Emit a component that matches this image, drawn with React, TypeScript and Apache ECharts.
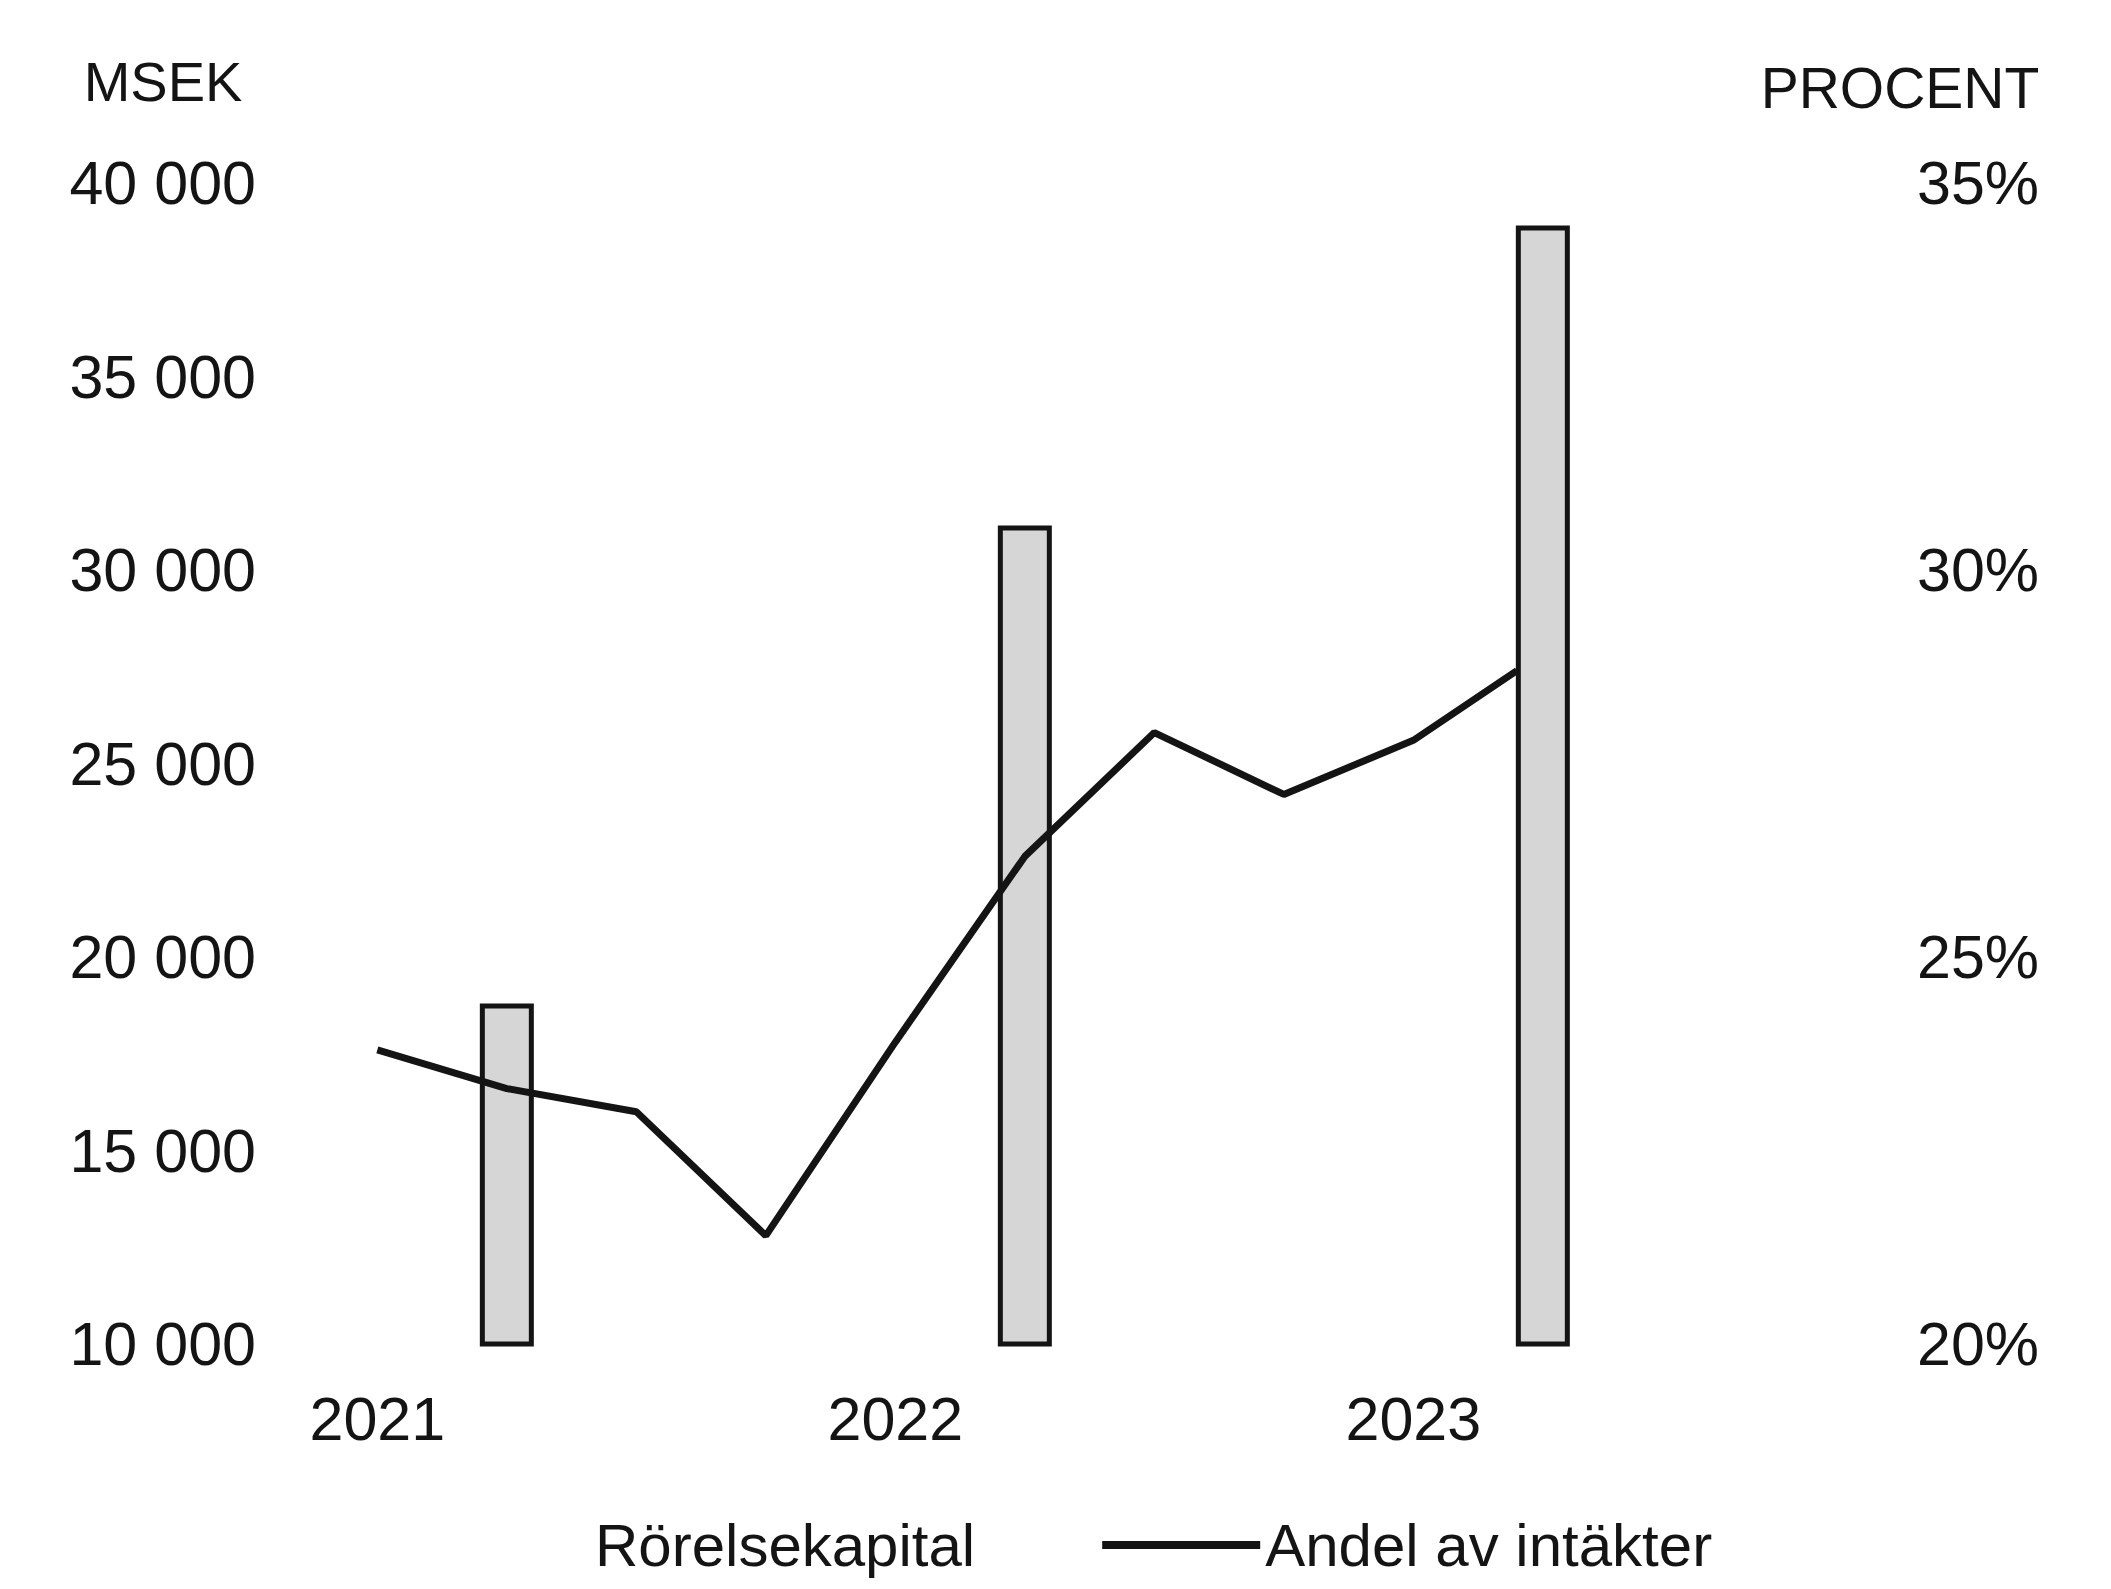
import React, { useEffect, useRef } from "react";
import * as echarts from "echarts";

// ---- data ----
const yearLabels = ["2021", "2022", "2023"];
const yearStartMonths = [0, 12, 24]; // months since Jan 2021
const barMonths = [3, 15, 27];
const workingCapital = [18800, 31150, 38900]; // MSEK (Rörelsekapital)
const lineMonths = [0, 3, 6, 9, 12, 15, 18, 21, 24, 26.4];
const shareOfRevenue = [23.8, 23.3, 23.0, 21.4, 23.9, 26.3, 27.9, 27.1, 27.8, 28.7]; // %
const leftAxisTitle = "MSEK";
const rightAxisTitle = "PROCENT";
const barName = "Rörelsekapital";
const lineName = "Andel av intäkter";

const FONT = "'Liberation Sans', Arial, sans-serif";
const TXT = "#141414";

export default function App() {
  const ref = useRef<HTMLDivElement>(null);
  useEffect(() => {
    if (!ref.current) return;
    const chart = echarts.init(ref.current, null, { renderer: "svg" });
    const fmtThousands = (v: number) =>
      String(v).replace(/\B(?=(\d{3})+(?!\d))/g, " ");
    chart.setOption({
      animation: false,
      backgroundColor: "#ffffff",
      textStyle: { fontFamily: FONT, color: TXT },
      grid: { left: 291, right: 266, top: 183, bottom: 245, containLabel: false },
      graphic: [
        {
          type: "text",
          x: 163,
          y: 81,
          style: {
            text: leftAxisTitle,
            font: `56px ${FONT}`,
            fill: TXT,
            align: "center",
            verticalAlign: "middle",
          },
        },
        {
          type: "text",
          x: 1900,
          y: 88,
          style: {
            text: rightAxisTitle,
            font: `57px ${FONT}`,
            fill: TXT,
            align: "center",
            verticalAlign: "middle",
          },
        },
      ],
      legend: {
        left: 432,
        top: 1515,
        padding: 0,
        itemWidth: 158,
        itemHeight: 8,
        itemGap: 127,
        textStyle: { fontSize: 60, lineHeight: 58, color: TXT, fontFamily: FONT },
        data: [
          { name: barName, icon: "rect", itemStyle: { color: "rgba(0,0,0,0)", borderWidth: 0 } },
          { name: lineName, icon: "rect", itemStyle: { color: TXT, borderWidth: 0 } },
        ],
      },
      xAxis: {
        type: "value",
        min: -2,
        max: 34,
        axisLine: { show: false },
        axisTick: { show: false },
        splitLine: { show: false },
        axisLabel: {
          customValues: yearStartMonths,
          margin: 44,
          fontSize: 61,
          color: TXT,
          fontFamily: FONT,
          formatter: (v: number) => {
            const i = yearStartMonths.indexOf(v);
            return i >= 0 ? yearLabels[i] : "";
          },
        },
      },
      yAxis: [
        {
          type: "value",
          min: 10000,
          max: 40000,
          interval: 5000,
          axisLine: { show: false },
          axisTick: { show: false },
          splitLine: { show: false },
          axisLabel: {
            margin: 35,
            fontSize: 61,
            color: TXT,
            fontFamily: FONT,
            formatter: (v: number) => fmtThousands(v),
          },
        },
        {
          type: "value",
          min: 20,
          max: 35,
          interval: 5,
          position: "right",
          axisLine: { show: false },
          axisTick: { show: false },
          splitLine: { show: false },
          axisLabel: {
            margin: 72,
            fontSize: 61,
            color: TXT,
            fontFamily: FONT,
            formatter: (v: number) => `${v}%`,
          },
        },
      ],
      series: [
        {
          name: barName,
          type: "bar",
          yAxisIndex: 0,
          barWidth: 54,
          z: 1,
          itemStyle: { color: "#d6d6d6", borderColor: TXT, borderWidth: 5 },
          data: barMonths.map((m, i) => [m, workingCapital[i]]),
        },
        {
          name: lineName,
          type: "line",
          yAxisIndex: 1,
          z: 5,
          showSymbol: false,
          symbol: "none",
          lineStyle: { color: TXT, width: 7 },
          itemStyle: { color: TXT },
          data: lineMonths.map((m, i) => [m, shareOfRevenue[i]]),
        },
      ],
    });
    return () => chart.dispose();
  }, []);
  return (
    <div
      ref={ref}
      style={{ position: "fixed", left: 0, top: 0, width: 2111, height: 1589 }}
    />
  );
}
